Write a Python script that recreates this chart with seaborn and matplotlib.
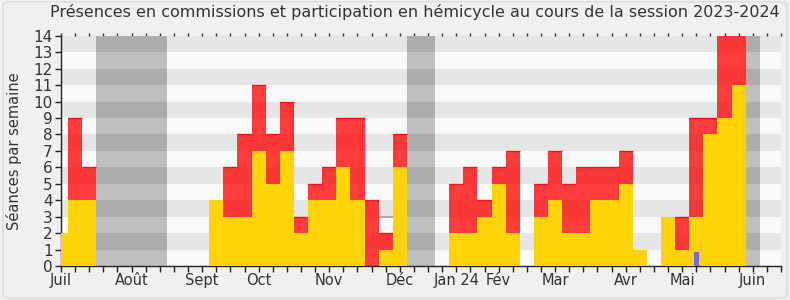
import matplotlib
matplotlib.use("Agg")
import matplotlib.pyplot as plt
import seaborn as sns
import pandas as pd
from matplotlib.patches import FancyBboxPatch
from matplotlib.ticker import FixedLocator, FixedFormatter, NullFormatter

# ---- data (one value per week, week 0 = first week of July 2023) ----
weeks = list(range(51))
hemicycle = [2, 4, 4, 0, 0, 0, 0, 0, 0, 0, 0, 4, 3, 3, 7, 5, 7, 2, 4, 4,
             6, 4, 0, 1, 6, 0, 0, 0, 2, 2, 3, 5, 2, 0, 3, 4, 2, 2, 4, 4,
             5, 1, 0, 3, 1, 3, 8, 9, 11, 0, 0]
commission = [0, 5, 2, 0, 0, 0, 0, 0, 0, 0, 0, 0, 3, 5, 4, 3, 3, 1, 1, 2,
              3, 5, 4, 1, 2, 0, 0, 0, 3, 4, 1, 1, 5, 0, 2, 3, 3, 4, 2, 2,
              2, 0, 0, 0, 2, 6, 1, 6, 4, 0, 0]
questions = [0] * 45 + [0.85] + [0] * 5
median_weeks = [23]
median_values = [3]
vacations = [(2.5, 7.5), (24.5, 26.5), (48.5, 49.5)]
month_ticks = [0, 5, 10, 14, 19, 24, 28, 31, 35, 40, 44, 49]
month_labels = ["Juil", "Août", "Sept", "Oct", "Nov", "Déc", "Jan 24", "Fév",
                "Mar", "Avr", "Mai", "Juin"]
title = "Présences en commissions et participation en hémicycle au cours de la session 2023-2024"

total = [h + c for h, c in zip(hemicycle, commission)]
df = pd.DataFrame({"week": weeks, "hemicycle": hemicycle, "total": total,
                   "questions": questions})

sns.set_style("white")
plt.rcParams["font.family"] = ["DejaVu Sans"]

fig = plt.figure(figsize=(7.9, 3.0), dpi=100, facecolor="#f0f0f0")
fig.patches.append(FancyBboxPatch((0.004, 0.006), 0.992, 0.988,
                                  boxstyle="round,pad=0,rounding_size=0.012",
                                  transform=fig.transFigure, facecolor="#f0f0f0",
                                  edgecolor="#dcdcdc", linewidth=1.0, zorder=-10))
ax = fig.add_axes([0.0772, 0.1133, 0.9114, 0.7677])
ax.set_facecolor("#fafafa")

YMAX = 14
XMAX = 51
# alternating bands
for k in range(1, YMAX, 2):
    ax.axhspan(k, k + 1, color="#e6e6e6", lw=0, zorder=0)
# vacation periods
for (x0, x1) in vacations:
    for k in range(YMAX):
        ax.fill_between([x0, x1], k, k + 1,
                        color="#adadad" if k % 2 == 1 else "#bfbfbf",
                        lw=0, zorder=0.5)

sns.barplot(data=df, x="week", y="total", native_scale=True, width=1.0,
            color="#ff0000", alpha=0.76, saturation=1, errorbar=None,
            linewidth=0, ax=ax, zorder=2)
ax.hlines([t for t, c in zip(total, commission) if c > 0],
          [w - 0.5 for w, c in zip(weeks, commission) if c > 0],
          [w + 0.5 for w, c in zip(weeks, commission) if c > 0],
          color="#ff1010", lw=1.0, zorder=2.5)
sns.barplot(data=df, x="week", y="hemicycle", native_scale=True, width=1.0,
            color="#ffd20a", saturation=1, errorbar=None, linewidth=0,
            ax=ax, zorder=3)
sns.barplot(data=df, x="week", y="questions", native_scale=True, width=0.33,
            color="#6b6bff", saturation=1, errorbar=None, linewidth=0,
            ax=ax, zorder=4)
ax.hlines(median_values, [w - 0.5 for w in median_weeks],
          [w + 0.5 for w in median_weeks], color="#a0a0a0", lw=1.2, zorder=1)

ax.set_xlim(0, XMAX)
ax.set_ylim(0, YMAX)
ax.xaxis.set_major_locator(FixedLocator(month_ticks))
ax.xaxis.set_major_formatter(FixedFormatter(month_labels))
ax.xaxis.set_minor_locator(FixedLocator(list(range(0, XMAX + 1))))
ax.xaxis.set_minor_formatter(NullFormatter())
ax.tick_params(axis="x", which="both", direction="out", length=4, width=1,
               color="#222222", bottom=True)
ax.tick_params(axis="x", which="major", pad=1, labelsize=10.5,
               labelcolor="#333333")
ax.set_yticks(range(0, YMAX + 1))
ax.tick_params(axis="y", direction="out", length=4, width=1, color="#222222",
               labelsize=11, labelcolor="#333333", pad=2, left=True)
top = ax.secondary_xaxis("top")
top.set_xticks(range(0, XMAX + 1))
top.tick_params(axis="x", length=2, width=1, color="#333333", labeltop=False)
top.spines["top"].set_visible(False)
for s in ["top", "right"]:
    ax.spines[s].set_visible(False)
for s in ["left", "bottom"]:
    ax.spines[s].set_color("#222222")
    ax.spines[s].set_linewidth(1)
ax.set_xlabel("")
ax.set_ylabel("Séances par semaine", fontsize=10.5, color="#333333", labelpad=8)
fig.text(0.525, 0.96, title, ha="center", va="center", fontsize=11.5,
         color="#333333")

fig.savefig("out.png", dpi=100, facecolor=fig.get_facecolor())
